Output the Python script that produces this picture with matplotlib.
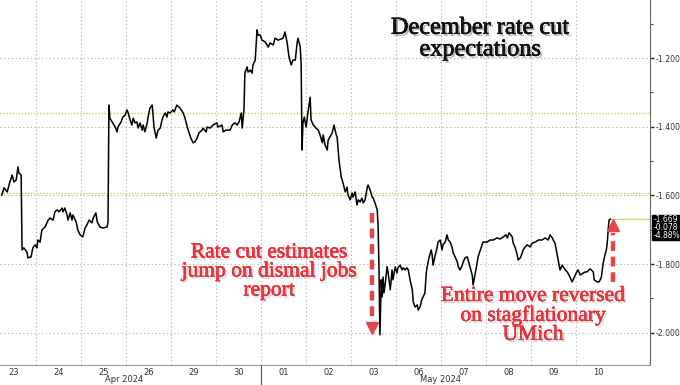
import numpy as np
import matplotlib
matplotlib.use('Agg')
import matplotlib.pyplot as plt
import matplotlib.patheffects as pe
from matplotlib.patches import Rectangle

# x = position in trading sessions (0 = Apr 23 open), y = implied rate cut level
t_days = [0.24, 0.29, 0.36, 0.42, 0.47, 0.51, 0.56, 0.60, 0.62, 0.67, 0.69, 0.73, 0.80, 0.82, 0.89, 0.93,
          0.98, 1.02, 1.04, 1.09, 1.13, 1.20, 1.27, 1.31, 1.38, 1.42, 1.47, 1.51, 1.58, 1.60, 1.64, 1.69,
          1.71, 1.76, 1.80, 1.82, 1.89, 1.93, 1.98, 2.04, 2.09, 2.13, 2.18, 2.24, 2.27, 2.33, 2.36, 2.42,
          2.49, 2.58, 2.60, 2.62, 2.64, 2.69, 2.76, 2.80, 2.82, 2.89, 2.93, 2.98, 3.02, 3.04, 3.09, 3.13,
          3.16, 3.20, 3.24, 3.27, 3.31, 3.36, 3.38, 3.42, 3.47, 3.49, 3.53, 3.58, 3.60, 3.62, 3.67, 3.71,
          3.76, 3.80, 3.82, 3.87, 3.91, 3.93, 3.98, 4.04, 4.07, 4.11, 4.13, 4.20, 4.27, 4.31, 4.36, 4.40,
          4.44, 4.49, 4.53, 4.58, 4.62, 4.69, 4.71, 4.78, 4.80, 4.87, 4.93, 5.02, 5.04, 5.13, 5.16, 5.22,
          5.31, 5.36, 5.42, 5.47, 5.51, 5.56, 5.58, 5.62, 5.64, 5.69, 5.71, 5.76, 5.80, 5.82, 5.87, 5.91,
          5.93, 5.98, 6.02, 6.09, 6.16, 6.20, 6.27, 6.31, 6.38, 6.49, 6.53, 6.58, 6.62, 6.67, 6.71, 6.76,
          6.80, 6.82, 6.87, 6.89, 6.91, 6.93, 6.96, 7.00, 7.04, 7.09, 7.11, 7.16, 7.22, 7.27, 7.31, 7.36,
          7.38, 7.42, 7.47, 7.49, 7.53, 7.58, 7.62, 7.67, 7.69, 7.73, 7.78, 7.82, 7.87, 7.91, 7.93, 7.98,
          8.02, 8.04, 8.09, 8.13, 8.16, 8.20, 8.24, 8.27, 8.31, 8.36, 8.38, 8.42, 8.47, 8.49, 8.53, 8.58,
          8.60, 8.62, 8.64, 8.67, 8.69, 8.71, 8.73, 8.76, 8.80, 8.82, 8.87, 8.91, 8.93, 8.98, 9.02, 9.04,
          9.09, 9.13, 9.16, 9.20, 9.24, 9.27, 9.31, 9.36, 9.38, 9.42, 9.47, 9.49, 9.53, 9.58, 9.60, 9.64,
          9.67, 9.69, 9.73, 9.78, 9.80, 9.82, 9.87, 9.91, 9.93, 9.98, 10.02, 10.04, 10.09, 10.13, 10.16,
          10.20, 10.24, 10.27, 10.31, 10.36, 10.38, 10.42, 10.47, 10.49, 10.53, 10.58, 10.60, 10.64, 10.69,
          10.71, 10.76, 10.80, 10.82, 10.87, 10.91, 10.93, 11.02, 11.09, 11.16, 11.24, 11.31, 11.38, 11.44,
          11.47, 11.51, 11.58, 11.60, 11.64, 11.69, 11.71, 11.76, 11.80, 11.82, 11.87, 11.91, 11.98, 12.02,
          12.09, 12.16, 12.24, 12.31, 12.38, 12.42, 12.47, 12.49, 12.53, 12.58, 12.60, 12.64, 12.69, 12.71,
          12.76, 12.80, 12.84, 12.89, 12.91, 12.96, 13.00, 13.04, 13.09, 13.16, 13.20, 13.24, 13.31, 13.38,
          13.40, 13.47, 13.51, 13.56, 13.58, 13.60, 13.64, 13.67, 13.69, 13.71, 13.73, 13.76]
cuts = [-1.599, -1.578, -1.590, -1.561, -1.541, -1.561, -1.555, -1.517, -1.535, -1.541, -1.759, -1.753,
        -1.765, -1.782, -1.779, -1.753, -1.744, -1.753, -1.730, -1.736, -1.701, -1.692, -1.672, -1.666,
        -1.672, -1.648, -1.642, -1.648, -1.637, -1.648, -1.637, -1.657, -1.672, -1.651, -1.672, -1.657,
        -1.677, -1.701, -1.715, -1.721, -1.695, -1.686, -1.672, -1.680, -1.666, -1.651, -1.677, -1.692,
        -1.695, -1.692, -1.677, -1.337, -1.375, -1.386, -1.401, -1.415, -1.401, -1.386, -1.372, -1.366,
        -1.351, -1.357, -1.380, -1.395, -1.375, -1.389, -1.386, -1.404, -1.389, -1.410, -1.395, -1.415,
        -1.389, -1.372, -1.346, -1.337, -1.366, -1.401, -1.433, -1.410, -1.404, -1.380, -1.372, -1.360,
        -1.372, -1.357, -1.360, -1.351, -1.357, -1.343, -1.337, -1.346, -1.360, -1.375, -1.401, -1.418,
        -1.433, -1.447, -1.444, -1.433, -1.418, -1.410, -1.404, -1.415, -1.401, -1.404, -1.395, -1.389,
        -1.401, -1.395, -1.415, -1.410, -1.410, -1.395, -1.389, -1.395, -1.386, -1.360, -1.404, -1.351,
        -1.244, -1.226, -1.241, -1.235, -1.244, -1.220, -1.206, -1.118, -1.133, -1.133, -1.148, -1.153,
        -1.168, -1.156, -1.162, -1.142, -1.148, -1.142, -1.124, -1.156, -1.197, -1.220, -1.206, -1.206,
        -1.156, -1.142, -1.168, -1.215, -1.468, -1.389, -1.372, -1.401, -1.360, -1.314, -1.380, -1.395,
        -1.404, -1.410, -1.424, -1.447, -1.424, -1.453, -1.468, -1.439, -1.430, -1.418, -1.395, -1.424,
        -1.430, -1.497, -1.546, -1.564, -1.590, -1.576, -1.599, -1.613, -1.593, -1.605, -1.590, -1.628,
        -1.613, -1.619, -1.608, -1.622, -1.613, -1.576, -1.570, -1.584, -1.605, -1.608, -1.622, -1.642,
        -1.692, -1.817, -2.006, -1.846, -1.896, -1.838, -1.884, -1.855, -1.808, -1.823, -1.875, -1.817,
        -1.846, -1.808, -1.826, -1.811, -1.803, -1.817, -1.811, -1.817, -1.811, -1.817, -1.846, -1.875,
        -1.910, -1.925, -1.919, -1.934, -1.925, -1.899, -1.896, -1.884, -1.826, -1.808, -1.782, -1.759,
        -1.773, -1.803, -1.773, -1.753, -1.736, -1.730, -1.759, -1.744, -1.736, -1.715, -1.730, -1.736,
        -1.750, -1.768, -1.779, -1.794, -1.808, -1.817, -1.803, -1.794, -1.782, -1.779, -1.788, -1.808,
        -1.832, -1.861, -1.826, -1.797, -1.779, -1.759, -1.744, -1.736, -1.736, -1.730, -1.730, -1.724,
        -1.727, -1.721, -1.715, -1.724, -1.709, -1.721, -1.739, -1.750, -1.773, -1.788, -1.782, -1.768,
        -1.759, -1.750, -1.744, -1.750, -1.739, -1.736, -1.730, -1.730, -1.724, -1.730, -1.715, -1.724,
        -1.730, -1.739, -1.773, -1.788, -1.817, -1.803, -1.808, -1.817, -1.823, -1.832, -1.846, -1.852,
        -1.838, -1.826, -1.817, -1.832, -1.826, -1.823, -1.823, -1.814, -1.823, -1.846, -1.852, -1.852,
        -1.838, -1.817, -1.797, -1.773, -1.759, -1.739, -1.701, -1.672, -1.669]

day_labels = ['23', '24', '25', '26', '29', '30', '01', '02', '03', '06', '07', '08', '09', '10']
months = ['Apr 2024', 'May 2024']
month_pos = [2.95, 9.98]
y_ticks = [-1.2, -1.4, -1.6, -1.8, -2.0]
ref_levels = [-1.36, -1.593]
last_value = -1.669
last_info = ['-1.669', '-0.078', '-4.88%']

W, H = 680, 385
fig = plt.figure(figsize=(6.8, 3.85), dpi=100)
ax = fig.add_axes([0, 20 / H, 650 / W, 365 / H])
ax.set_xlim(0.2, 14.64)
ax.set_ylim(-2.094, -1.031)

grid_kw = dict(color='#b8b8b8', lw=0.8, ls=(0, (1.2, 2.2)), zorder=1)
for k in range(1, 14):
    ax.axvline(k, **grid_kw)
for v in y_ticks:
    ax.axhline(v, **grid_kw)
for v in ref_levels:
    ax.axhline(v, color='#d2cc55', lw=1.0, ls=(0, (1, 1.2)), zorder=1)
ax.plot([t_days[-1], 14.64], [last_value, last_value], color='#dcd66a', lw=1.0, zorder=2)

ax.plot(t_days, cuts, color='black', lw=1.1, zorder=3)

# axes look
for s in ['top', 'left']:
    ax.spines[s].set_visible(False)
ax.spines['right'].set_color('#666666')
ax.spines['bottom'].set_color('#999999')
ax.yaxis.tick_right()
ax.set_yticks(y_ticks)
ax.set_yticklabels(['{:.3f}'.format(v) for v in y_ticks])
ax.set_yticks([-1.1, -1.3, -1.5, -1.7, -1.9], minor=True)
ax.tick_params(axis='y', which='major', length=3, width=1, color='#222222', labelsize=5.6,
               labelcolor='#333333', pad=1)
ax.tick_params(axis='y', which='minor', length=2, width=0.8, color='#444444')
ax.set_xticks([k + 0.5 for k in range(len(day_labels))])
ax.set_xticklabels(day_labels)
ax.tick_params(axis='x', length=0, labelsize=6, labelcolor='#333333', pad=2)

for name, pos in zip(months, month_pos):
    ax.text(pos, -15 / 365, name, transform=ax.get_xaxis_transform(), ha='center', va='center',
            fontsize=6, color='#333333')
ax.plot([6, 6], [0, -20 / 365], transform=ax.get_xaxis_transform(), clip_on=False,
        color='#555555', lw=0.8)

# title
ax.text(10.87, -1.145, 'December rate cut\nexpectations', ha='center', va='center',
        family='Liberation Serif', fontsize=17.5, color='#111111', linespacing=1.05,
        path_effects=[pe.withSimplePatchShadow(offset=(1.5, -1.5), shadow_rgbFace='#555555', alpha=0.45),
                      pe.Stroke(linewidth=0.5, foreground='#111111'), pe.Normal()],
        zorder=5)

red = '#e8323c'
shadow = [pe.withSimplePatchShadow(offset=(1.5, -1.5), shadow_rgbFace='#888888', alpha=0.35),
          pe.Stroke(linewidth=0.4, foreground=red), pe.Normal()]
ax.text(6.18, -1.823, 'Rate cut estimates\njump on dismal jobs\nreport', ha='center', va='center',
        family='Liberation Serif', fontsize=15.5, color=red, linespacing=1.0,
        path_effects=shadow, zorder=5)
ax.text(12.04, -1.951, 'Entire move reversed\non stagflationary\nUMich', ha='center', va='center',
        family='Liberation Serif', fontsize=15.5, color=red, linespacing=1.0,
        path_effects=shadow, zorder=5)

# dashed arrows
arrow_red = '#e8434b'
ax.plot([8.47, 8.47], [-1.651, -1.955], color=arrow_red, lw=3.2, dashes=(2.2, 1.3), zorder=4)
ax.plot([8.47], [-1.985], marker='v', markersize=9, color=arrow_red, zorder=4)
ax.plot([13.82, 13.82], [-1.852, -1.71], color=arrow_red, lw=3.2, dashes=(2.2, 1.3), zorder=4)
ax.plot([13.82], [-1.685], marker='^', markersize=9, color=arrow_red, zorder=4)

# last value box
box_y = ax.transData.transform((0, last_value))[1] / H
fig.patches.append(Rectangle((652 / W, box_y - 21 / H), 28 / W, 25 / H,
                             transform=fig.transFigure, color='black', zorder=0))
for i, s in enumerate(last_info):
    fig.text(654 / W, box_y - i * 8 / H, s, color='white', fontsize=5.5, va='center', ha='left')

fig.savefig('out.png', dpi=100)
